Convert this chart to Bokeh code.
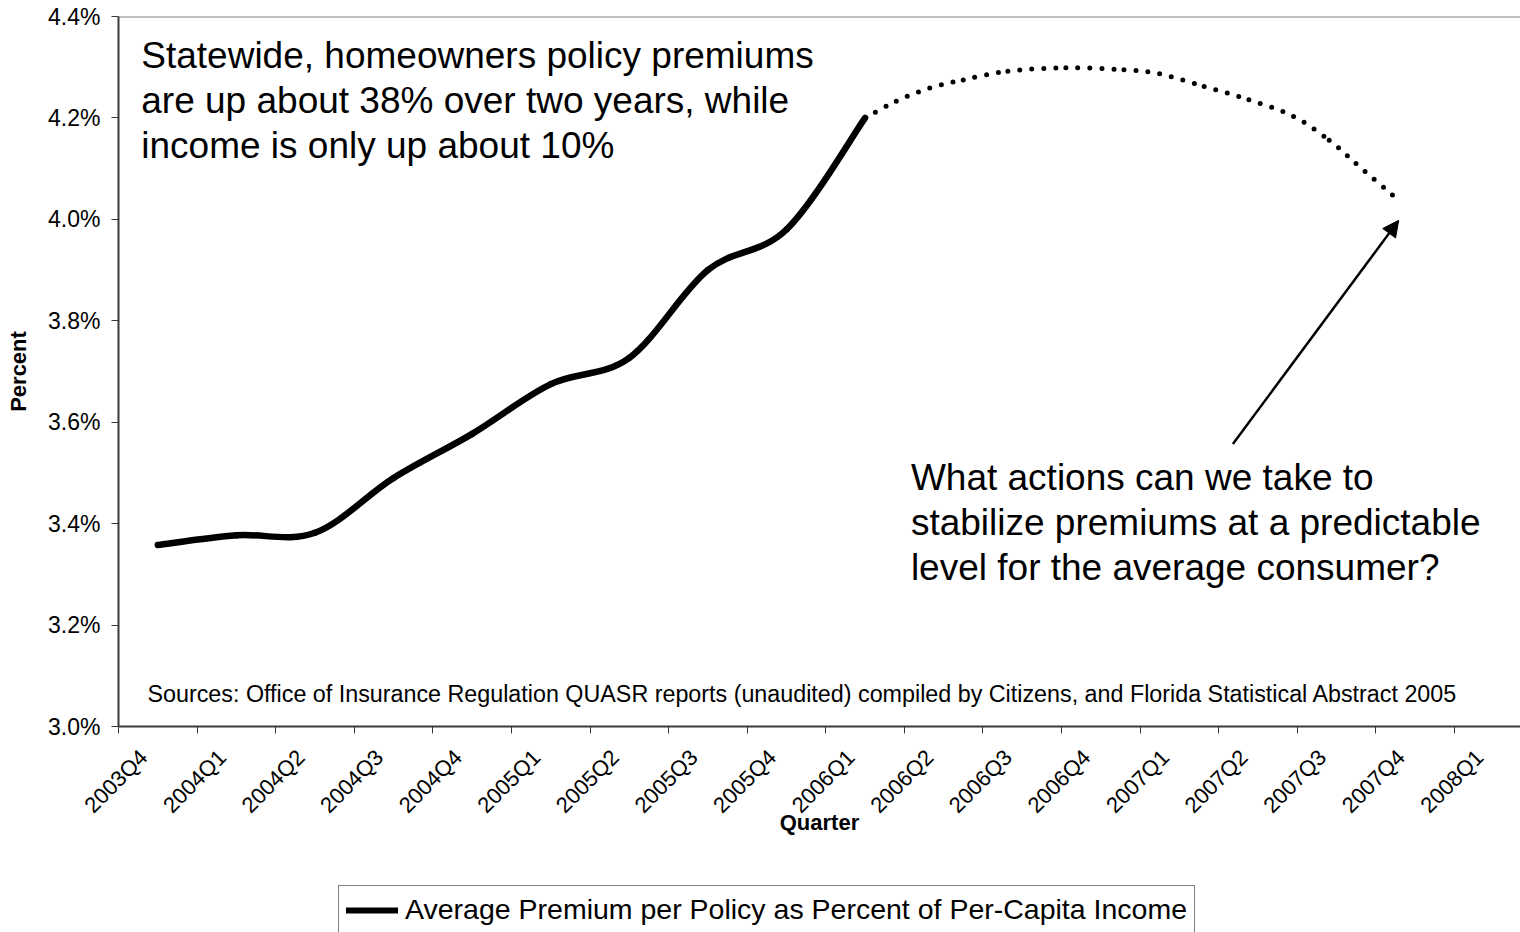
import math
from bokeh.plotting import figure
from bokeh.layouts import column
from bokeh.models import (Range1d, FixedTicker, Label, Legend, LegendItem,
                          Arrow, NormalHead, Span)
from bokeh.embed import file_html
from bokeh.resources import INLINE

# ---------------- data ----------------
quarters = ["2003Q4", "2004Q1", "2004Q2", "2004Q3", "2004Q4", "2005Q1",
            "2005Q2", "2005Q3", "2005Q4", "2006Q1", "2006Q2", "2006Q3",
            "2006Q4", "2007Q1", "2007Q2", "2007Q3", "2007Q4", "2008Q1"]

premium_quarters = quarters[:10]
premium_pct = [3.358, 3.377, 3.382, 3.490, 3.577, 3.675, 3.727, 3.900, 3.980, 4.200]

# hand-drawn projection arc (position in quarters from the left edge of 2003Q4)
proj_pos = [9.5, 9.897, 10.323, 10.749, 11.317, 12.055, 12.794, 13.248,
            13.815, 14.384, 14.952, 15.406, 15.747, 16.24]
proj_pct = [4.200, 4.233, 4.259, 4.275, 4.292, 4.299, 4.295, 4.287,
            4.262, 4.236, 4.203, 4.156, 4.110, 4.044]

y_ticks = [3.0, 3.2, 3.4, 3.6, 3.8, 4.0, 4.2, 4.4]
y_tick_labels = ["3.0%", "3.2%", "3.4%", "3.6%", "3.8%", "4.0%", "4.2%", "4.4%"]

legend_label = "Average Premium per Policy as Percent of Per-Capita Income"
note_top = ["Statewide, homeowners policy premiums",
            "are up about 38% over two years, while",
            "income is only up about 10%"]
note_bottom = ["What actions can we take to",
               "stabilize premiums at a predictable",
               "level for the average consumer?"]
sources = ("Sources:  Office of Insurance Regulation QUASR reports (unaudited) "
           "compiled by Citizens, and Florida Statistical Abstract 2005")

FONT = "Liberation Sans"
AXIS_COLOR = "#3a3a3a"


def smooth_segments(xs, ys):
    """Cubic Bezier segments through the points (Excel-style smoothed line)."""
    n = len(xs)
    out = {k: [] for k in ("x0", "y0", "x1", "y1", "cx0", "cy0", "cx1", "cy1")}
    for i in range(n - 1):
        xm, ym = (xs[i - 1], ys[i - 1]) if i > 0 else (xs[i], ys[i])
        xp, yp = (xs[i + 2], ys[i + 2]) if i + 2 < n else (xs[i + 1], ys[i + 1])
        out["x0"].append(xs[i]); out["y0"].append(ys[i])
        out["x1"].append(xs[i + 1]); out["y1"].append(ys[i + 1])
        out["cx0"].append(xs[i] + (xs[i + 1] - xm) / 6.0)
        out["cy0"].append(ys[i] + (ys[i + 1] - ym) / 6.0)
        out["cx1"].append(xs[i + 1] - (xp - xs[i]) / 6.0)
        out["cy1"].append(ys[i + 1] - (yp - ys[i]) / 6.0)
    return out


p = figure(frame_width=1402, frame_height=710,
           x_range=Range1d(0, 17.84), y_range=Range1d(3.0, 4.4),
           output_backend="svg", toolbar_location=None,
           min_border_left=118, min_border_right=0, min_border_top=16,
           min_border_bottom=154)
p.outline_line_color = None
p.xgrid.visible = False
p.ygrid.visible = False
p.background_fill_color = "white"
p.border_fill_color = "white"

# top border of the plot area
p.add_layout(Span(location=4.4, dimension="width", line_color="#808080", line_width=2))

# ---------------- axes ----------------
yax = p.yaxis[0]
yax.ticker = FixedTicker(ticks=y_ticks)
yax.major_label_overrides = dict(zip(y_ticks, y_tick_labels))
yax.axis_line_color = AXIS_COLOR
yax.axis_line_width = 2
yax.major_tick_line_color = AXIS_COLOR
yax.major_tick_out = 7
yax.major_tick_in = 0
yax.minor_tick_line_color = None
yax.major_label_text_font = FONT
yax.major_label_text_font_size = "23px"
yax.major_label_text_color = "black"
yax.major_label_standoff = 11
yax.axis_label = "Percent"
yax.axis_label_text_font = FONT
yax.axis_label_text_font_style = "bold"
yax.axis_label_text_font_size = "22px"
yax.axis_label_text_color = "black"
yax.axis_label_standoff = 14

xax = p.xaxis[0]
label_pos = [i + 0.32 for i in range(len(quarters))]
xax.ticker = FixedTicker(ticks=label_pos, minor_ticks=list(range(len(quarters) + 1)))
xax.major_label_overrides = dict(zip(label_pos, quarters))
xax.major_label_orientation = math.pi / 4
xax.axis_line_color = AXIS_COLOR
xax.axis_line_width = 2
xax.major_tick_out = 0
xax.major_tick_in = 0
xax.major_tick_line_color = None
xax.minor_tick_line_color = AXIS_COLOR
xax.minor_tick_out = 7
xax.minor_tick_in = 0
xax.major_label_text_font = FONT
xax.major_label_text_font_size = "22px"
xax.major_label_text_color = "black"
xax.major_label_standoff = 20
xax.axis_label = "Quarter"
xax.axis_label_text_font = FONT
xax.axis_label_text_font_style = "bold"
xax.axis_label_text_font_size = "22px"
xax.axis_label_text_color = "black"
xax.axis_label_standoff = -20

# ---------------- series ----------------
prem_x = [quarters.index(q) + 0.5 for q in premium_quarters]
seg = smooth_segments(prem_x, premium_pct)
p.bezier(x0=seg["x0"], y0=seg["y0"], x1=seg["x1"], y1=seg["y1"],
         cx0=seg["cx0"], cy0=seg["cy0"], cx1=seg["cx1"], cy1=seg["cy1"],
         line_color="black", line_width=6.5, line_cap="round")

pseg = smooth_segments(proj_pos, proj_pct)
p.bezier(x0=pseg["x0"], y0=pseg["y0"], x1=pseg["x1"], y1=pseg["y1"],
         cx0=pseg["cx0"], cy0=pseg["cy0"], cx1=pseg["cx1"], cy1=pseg["cy1"],
         line_color="black", line_width=5, line_cap="round", line_dash="0 12")

# ---------------- annotations ----------------
for txt, yv in zip(note_top, [4.3237, 4.2350, 4.1462]):
    p.add_layout(Label(x=0.29, y=yv, text=txt, text_font=FONT, text_font_size="37px",
                       text_baseline="middle", text_color="black"))
for txt, yv in zip(note_bottom, [3.4916, 3.4028, 3.3141]):
    p.add_layout(Label(x=10.083, y=yv, text=txt, text_font=FONT, text_font_size="37px",
                       text_baseline="middle", text_color="black"))
p.add_layout(Label(x=0.369, y=3.0643, text=sources, text_font=FONT, text_font_size="23.3px",
                   text_baseline="middle", text_color="black"))

p.add_layout(Arrow(end=NormalHead(size=16, fill_color="black", line_color="black"),
                   x_start=14.18, y_start=3.557, x_end=16.29, y_end=3.998,
                   line_color="black", line_width=2.5))

# ---------------- legend strip (below the chart) ----------------
lg = figure(width=1520, height=52, x_range=Range1d(100, 101), y_range=Range1d(100, 101),
            output_backend="svg", toolbar_location=None,
            x_axis_location=None, y_axis_location=None,
            min_border_left=0, min_border_right=0, min_border_top=0, min_border_bottom=0)
lg.outline_line_color = None
lg.xgrid.visible = False
lg.ygrid.visible = False
r_leg = lg.line(x=prem_x, y=premium_pct, line_color="black", line_width=6, line_cap="round")

legend = Legend(items=[LegendItem(label=legend_label, renderers=[r_leg])],
                location=(220, -2))
legend.label_text_font = FONT
legend.label_text_font_size = "28.5px"
legend.label_text_color = "black"
legend.glyph_width = 52
legend.glyph_height = 30
legend.label_standoff = 7
legend.padding = 7
legend.margin = 0
legend.border_line_color = "black"
legend.border_line_width = 1.5
legend.background_fill_color = "white"
legend.background_fill_alpha = 1.0
lg.add_layout(legend)

layout = column(p, lg, spacing=0)
open("out.html", "w").write(file_html(layout, INLINE))
